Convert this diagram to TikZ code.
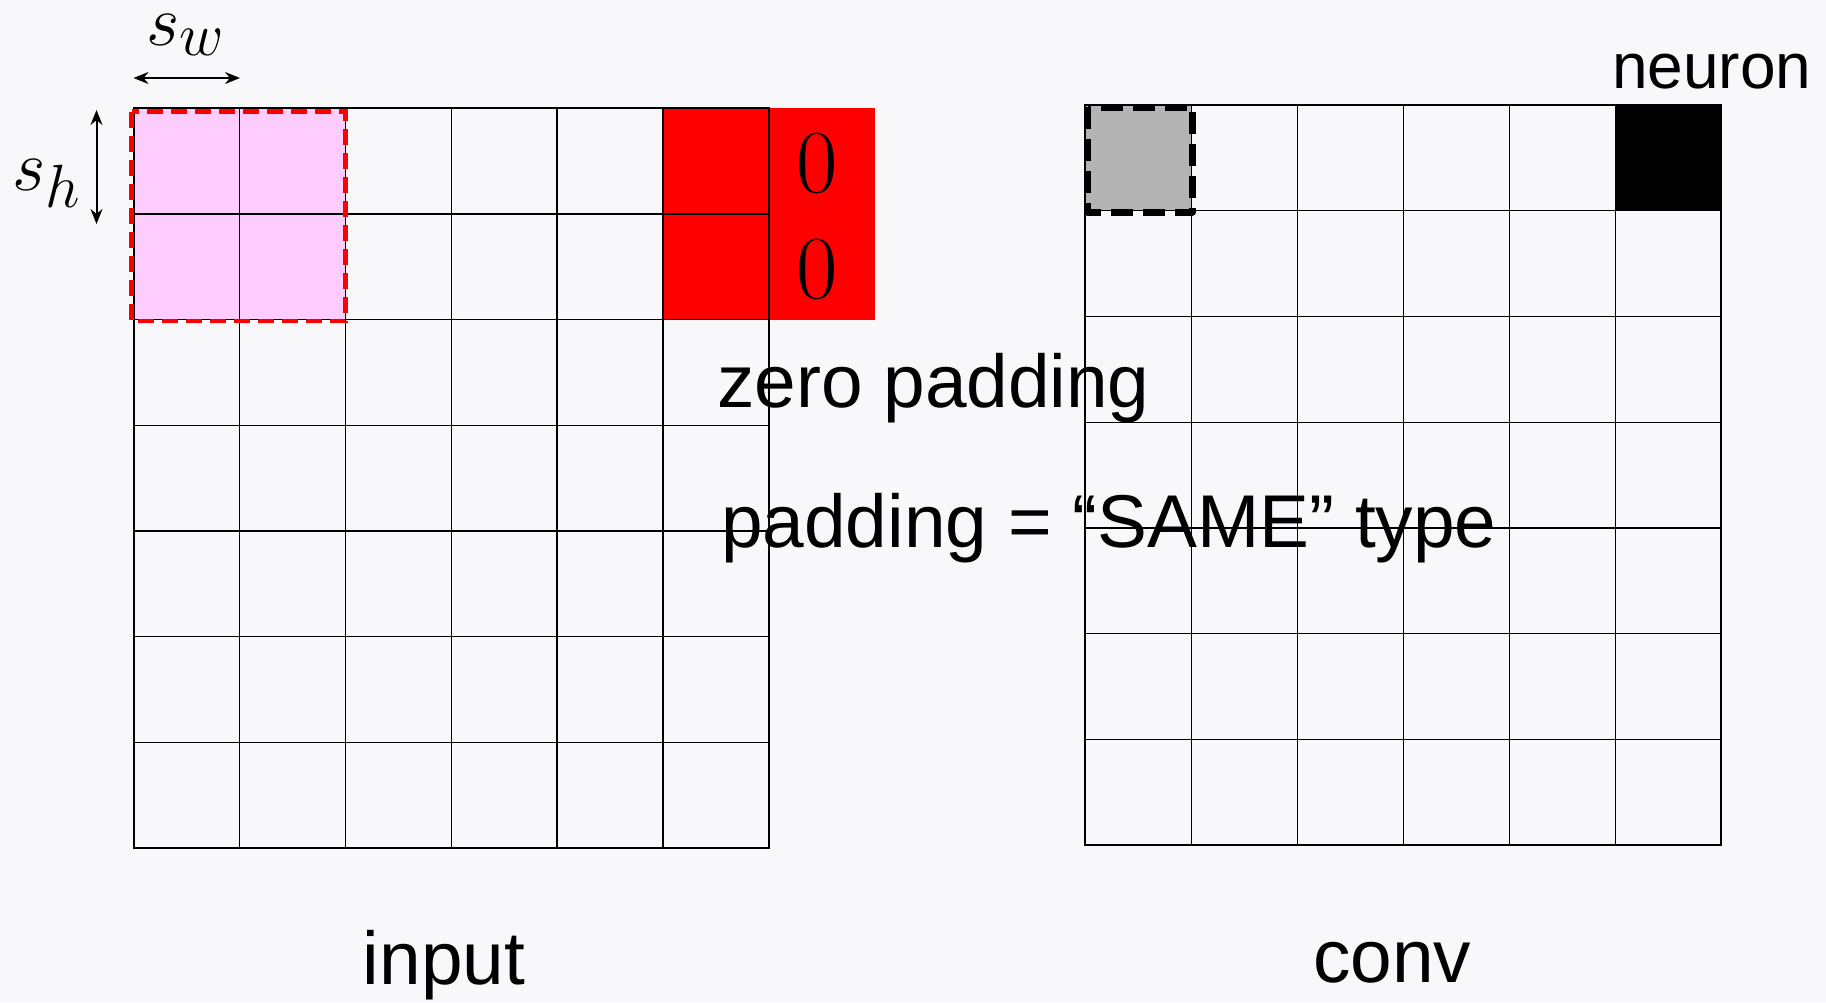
\RequirePackage{fix-cm}
\documentclass[tikz,border=0pt]{standalone}
\usepackage{fontspec}
\setsansfont{Liberation Sans}
\usetikzlibrary{arrows.meta}
\DeclareMathSizes{72}{72}{61}{50}
\definecolor{bg}{RGB}{248,248,250}
\definecolor{pinkfill}{RGB}{255,204,255}
\definecolor{padred}{RGB}{255,0,0}
\definecolor{grayfill}{RGB}{179,179,179}
\tikzset{
  gridline/.style={line width=1.3pt, black},
  gridframe/.style={line width=2pt, black},
  label/.style={font=\sffamily\fontsize{74.8}{80}\selectfont, inner sep=0pt},
  mathlabel/.style={font=\fontsize{72}{80}\selectfont, inner sep=0pt},
  zero/.style={font=\fontsize{90}{96}\selectfont, inner sep=0pt},
  dim/.style={line width=2pt, {Stealth[length=15pt,width=12pt]}-{Stealth[length=15pt,width=12pt]}},
  windowbox/.style={padred, line width=4.5pt, dash pattern=on 16pt off 8pt},
  outputbox/.style={black, line width=7pt, dash pattern=on 22pt off 10pt, line join=round},
}
\begin{document}
\begin{tikzpicture}[x=1pt,y=-1pt]
\useasboundingbox (0,0) rectangle (1826,1002);
\fill[bg] (0,0) rectangle (1826,1002);

% input grid: 6 x 7 cells
\def\ix{133.5}\def\iy{108.3}\def\iw{105.9}\def\ih{105.64}
% conv grid: 6 x 7 cells
\def\cx{1085.3}\def\cy{104.8}\def\cw{105.97}\def\ch{105.8}

% receptive field
\fill[pinkfill] (\ix,\iy) rectangle ({\ix+2*\iw},{\iy+2*\ih});
% zero-padded column and the cells beside it
\fill[padred] ({\ix+5*\iw},\iy) rectangle ({\ix+7*\iw},{\iy+2*\ih});
% output cells
\fill[grayfill] (\cx,\cy) rectangle ({\cx+\cw},{\cy+\ch});
\fill[black] ({\cx+5*\cw},\cy) rectangle ({\cx+6*\cw},{\cy+\ch});

% input grid lines
\foreach \i in {1,...,5}
  \draw[gridline] ({\ix+\i*\iw},\iy) -- ({\ix+\i*\iw},{\iy+7*\ih});
\foreach \j in {1,...,6}
  \draw[gridline] (\ix,{\iy+\j*\ih}) -- ({\ix+6*\iw},{\iy+\j*\ih});
\draw[gridframe] (\ix,\iy) rectangle ({\ix+6*\iw},{\iy+7*\ih});

% conv grid lines
\foreach \i in {1,...,5}
  \draw[gridline] ({\cx+\i*\cw},\cy) -- ({\cx+\i*\cw},{\cy+7*\ch});
\foreach \j in {1,...,6}
  \draw[gridline] (\cx,{\cy+\j*\ch}) -- ({\cx+6*\cw},{\cy+\j*\ch});
\draw[gridframe] (\cx,\cy) rectangle ({\cx+6*\cw},{\cy+7*\ch});

% dashed outlines
\draw[windowbox] (131.5,111.5) rectangle (345.5,321);
\draw[outputbox] (1087.5,107) rectangle (1192,212);

% padding zeros
\node[zero] (z1) at (817,163.5) {$0$};
\node[zero] (z2) at (817,269) {$0$};

% stride arrows
\coordinate (swl) at (133.5,78);
\coordinate (swr) at (240,78);
\coordinate (sht) at (96.5,110);
\coordinate (shb) at (96.5,224);
\draw[dim] (swl) -- (swr);
\draw[dim] (sht) -- (shb);
\node[mathlabel, anchor=base west] (sw) at (146,45) {$s_w$};
\node[mathlabel, anchor=base west] (sh) at (12,190) {$s_h$};

% text labels
\node[label, anchor=base west] (zp) at (717,407) {zero padding};
\node[label, anchor=base west] (same) at (721,547) {padding = “SAME” type};
\node[label, font=\sffamily\fontsize{64}{70}\selectfont, anchor=base west] (neuron) at (1612,88) {neuron};
\node[label, anchor=base] (input) at (444,984) {input};
\node[label, anchor=base] (conv) at (1392,982) {conv};
\end{tikzpicture}
\end{document}
